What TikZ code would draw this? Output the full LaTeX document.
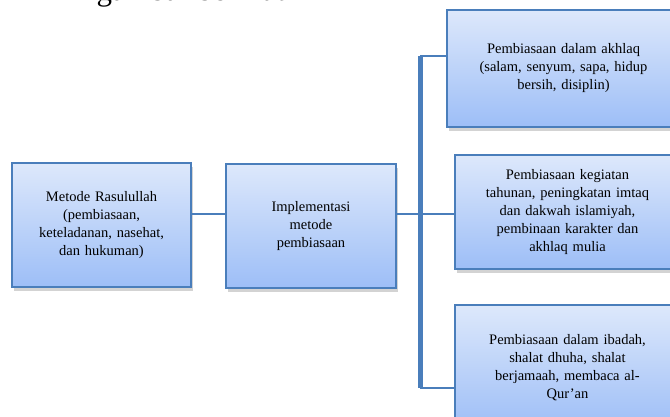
\documentclass[tikz,border=0pt]{standalone}
\usepackage{fontspec}
\setmainfont{Liberation Serif}
\usetikzlibrary{shadows}
\definecolor{edge}{HTML}{4A7EBB}
\definecolor{topfill}{HTML}{DDE8FB}
\definecolor{botfill}{HTML}{9DBEF7}
\tikzset{
  box/.style={draw=edge, line width=1.8pt, top color=topfill, bottom color=botfill,
    align=center, inner sep=4pt, font=\fontsize{14.5}{18}\selectfont,
    drop shadow={opacity=0.35, shadow xshift=2pt, shadow yshift=-4pt}},
  link/.style={draw=edge, line width=2pt},
  bar/.style={draw=edge, line width=5pt}
}
\begin{document}
\begin{tikzpicture}[x=1pt,y=-1pt]
\useasboundingbox (0,0) rectangle (670,416);
\clip (0,0) rectangle (670,416);
\node[font=\fontsize{31}{34}\selectfont, anchor=base] (title) at (191,0.5) {gambar berikut};
\node[box, minimum width=179pt, minimum height=124pt, text width=165pt] (a) at (101.5,225) {Metode Rasulullah\\(pembiasaan,\\keteladanan, nasehat,\\dan hukuman)};
\node[box, minimum width=170pt, minimum height=124pt, text width=150pt] (b) at (311,226) {Implementasi\\metode\\pembiasaan};
\node[box, minimum width=233pt, minimum height=117pt, text width=215pt] (c) at (563.5,68.5) {Pembiasaan dalam akhlaq\\(salam, senyum, sapa, hidup\\bersih, disiplin)};
\node[box, minimum width=225pt, minimum height=114pt, text width=215pt] (d) at (567.5,212) {Pembiasaan kegiatan\\tahunan, peningkatan imtaq\\dan dakwah islamiyah,\\pembinaan karakter dan\\akhlaq mulia};
\node[box, minimum width=225pt, minimum height=125pt, text width=215pt] (e) at (567.5,367.5) {Pembiasaan dalam ibadah,\\shalat dhuha, shalat\\berjamaah, membaca al-\\Qur'an};
\coordinate (bt) at (420,56);
\coordinate (bb) at (420,388);
\draw[link] (a.east |- 0,214) -- (b.west |- 0,214);
\draw[link] (b.east |- 0,214) -- (420,214) -- (d.west |- 0,214);
\draw[bar] (bt) -- (bb);
\draw[link] (bt) -- (c.west |- bt);
\draw[link] (bb) -- (e.west |- bb);
\end{tikzpicture}
\end{document}
